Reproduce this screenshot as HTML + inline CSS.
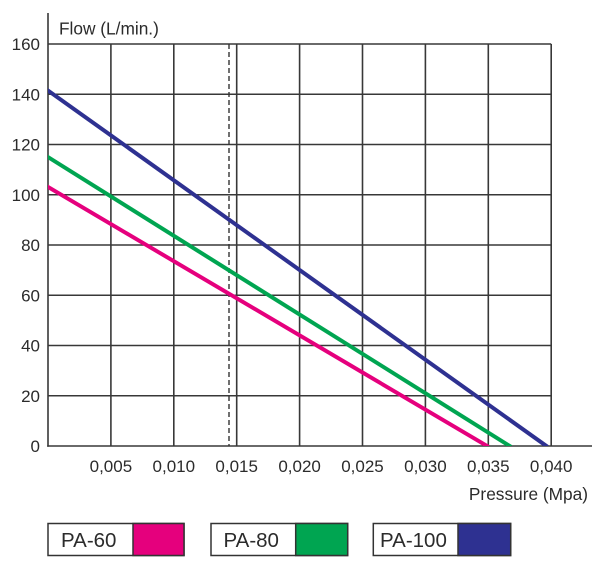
<!DOCTYPE html>
<html>
<head>
<meta charset="utf-8">
<style>
  html, body { margin:0; padding:0; background:#fff; }
  body { width:600px; height:576px; overflow:hidden; }
  svg { display:block; }
  text { font-family: "Liberation Sans", "DejaVu Sans", sans-serif; fill:#2b2b2b; }
</style>
</head>
<body>
<svg width="600" height="576" viewBox="0 0 600 576" xmlns="http://www.w3.org/2000/svg">
  <defs>
    <clipPath id="plot"><rect x="48" y="40" width="510" height="406"/></clipPath>
  </defs>
  <!-- grid -->
  <g stroke="#383838" stroke-width="1.6" fill="none">
    <line x1="48" y1="44" x2="551.2" y2="44"/>
    <line x1="48" y1="94.25" x2="551.2" y2="94.25"/>
    <line x1="48" y1="144.5" x2="551.2" y2="144.5"/>
    <line x1="48" y1="194.75" x2="551.2" y2="194.75"/>
    <line x1="48" y1="245" x2="551.2" y2="245"/>
    <line x1="48" y1="295.25" x2="551.2" y2="295.25"/>
    <line x1="48" y1="345.5" x2="551.2" y2="345.5"/>
    <line x1="48" y1="395.75" x2="551.2" y2="395.75"/>
    <line x1="110.9" y1="44" x2="110.9" y2="446"/>
    <line x1="173.8" y1="44" x2="173.8" y2="446"/>
    <line x1="236.7" y1="44" x2="236.7" y2="446"/>
    <line x1="299.6" y1="44" x2="299.6" y2="446"/>
    <line x1="362.5" y1="44" x2="362.5" y2="446"/>
    <line x1="425.4" y1="44" x2="425.4" y2="446"/>
    <line x1="488.3" y1="44" x2="488.3" y2="446"/>
    <line x1="551.2" y1="44" x2="551.2" y2="446"/>
    <!-- axes -->
    <line x1="48" y1="13" x2="48" y2="446.8"/>
    <line x1="47.2" y1="446" x2="592" y2="446"/>
  </g>
  <!-- dashed -->
  <line x1="229" y1="44" x2="229" y2="446" stroke="#333" stroke-width="1.4" stroke-dasharray="5,3"/>
  <!-- series -->
  <g clip-path="url(#plot)" stroke-width="4" fill="none" stroke-linecap="butt">
    <line x1="46" y1="185.8" x2="488.5" y2="446.8" stroke="#e5007d"/>
    <line x1="46" y1="155.8" x2="511" y2="446.8" stroke="#00a551"/>
    <line x1="46" y1="89.1" x2="547.5" y2="446.8" stroke="#2e3191"/>
  </g>
  <!-- y labels -->
  <g font-size="17" text-anchor="end">
    <text x="40" y="50">160</text>
    <text x="40" y="100.25">140</text>
    <text x="40" y="150.5">120</text>
    <text x="40" y="200.75">100</text>
    <text x="40" y="251">80</text>
    <text x="40" y="301.25">60</text>
    <text x="40" y="351.5">40</text>
    <text x="40" y="401.75">20</text>
    <text x="40" y="452">0</text>
  </g>
  <!-- x labels -->
  <g font-size="17" text-anchor="middle">
    <text x="110.9" y="472">0,005</text>
    <text x="173.8" y="472">0,010</text>
    <text x="236.7" y="472">0,015</text>
    <text x="299.6" y="472">0,020</text>
    <text x="362.5" y="472">0,025</text>
    <text x="425.4" y="472">0,030</text>
    <text x="488.3" y="472">0,035</text>
    <text x="551.2" y="472">0,040</text>
  </g>
  <text x="59" y="34.3" font-size="17.3">Flow (L/min.)</text>
  <text x="588" y="500" font-size="17.3" text-anchor="end">Pressure (Mpa)</text>
  <!-- legend -->
  <g stroke="#333" stroke-width="1.5">
    <rect x="48" y="523.5" width="136" height="32" fill="#fff"/>
    <rect x="133" y="523.5" width="51" height="32" fill="#e5007d"/>
    <rect x="211" y="523.5" width="136.7" height="32" fill="#fff"/>
    <rect x="295.7" y="523.5" width="52" height="32" fill="#00a551"/>
    <rect x="373.3" y="523.5" width="137.4" height="32" fill="#fff"/>
    <rect x="458" y="523.5" width="52.7" height="32" fill="#2e3191"/>
  </g>
  <g font-size="20.5">
    <text x="61" y="547">PA-60</text>
    <text x="223.5" y="547">PA-80</text>
    <text x="380" y="547">PA-100</text>
  </g>
</svg>
</body>
</html>
